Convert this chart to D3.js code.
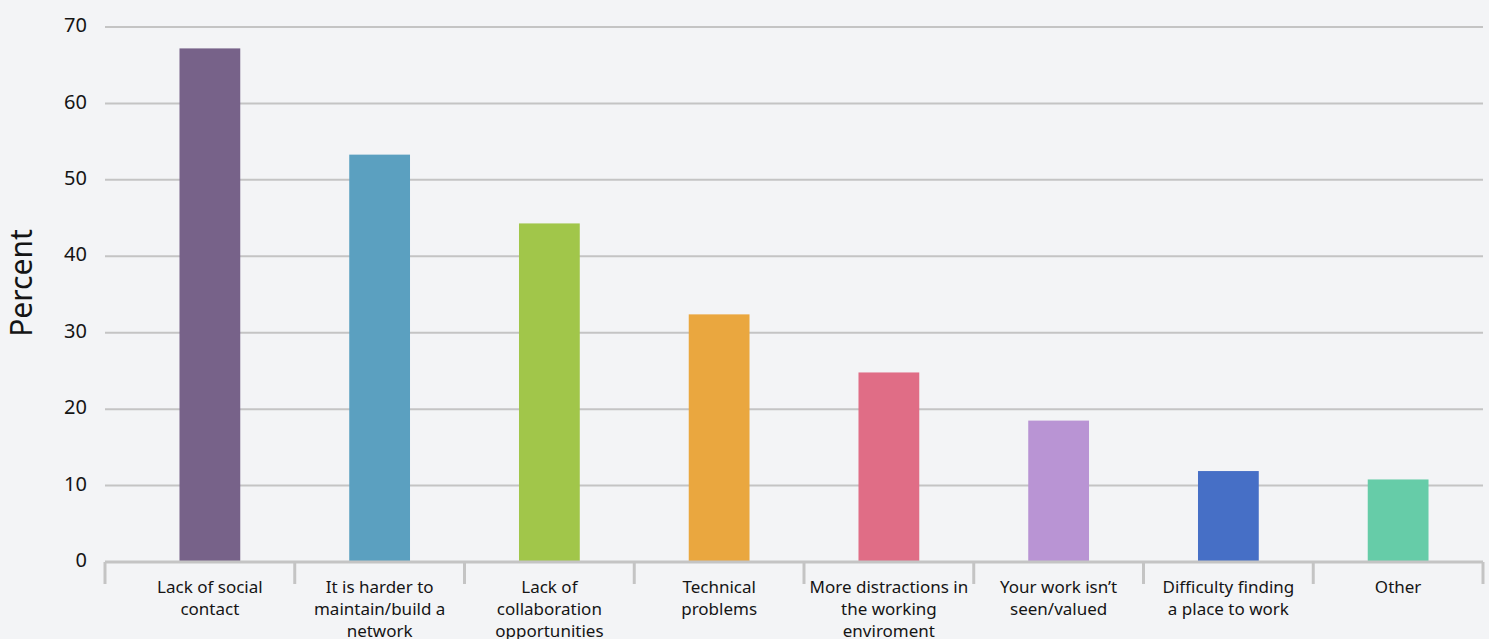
<!DOCTYPE html>
<html>
<head>
<meta charset="utf-8">
<script src="https://cdn.jsdelivr.net/npm/d3@7"></script>
<style>
  html, body { margin: 0; padding: 0; background: #f3f4f6; }
  svg { display: block; }
</style>
</head>
<body>
<div id="chart"></div>
<script>
// Challenges of remote working (share of respondents, %)
const categories = [
  "Lack of social\ncontact",
  "It is harder to\nmaintain/build a\nnetwork",
  "Lack of\ncollaboration\nopportunities",
  "Technical\nproblems",
  "More distractions in\nthe working\nenviroment",
  "Your work isn\u2019t\nseen/valued",
  "Difficulty finding\na place to work",
  "Other"
];
const percentValues = [67.2, 53.3, 44.3, 32.4, 24.8, 18.5, 11.9, 10.8];
const barColors = ["#776289", "#5ba0c0", "#a1c64a", "#eaa73f", "#e06d86", "#b994d4", "#466fc6", "#66cca8"];
const yTicks = [0, 10, 20, 30, 40, 50, 60, 70];

const W = 1489, H = 639;
const margin = { top: 27, right: 6, bottom: 77, left: 105 };
const innerW = W - margin.left - margin.right;
const innerH = H - margin.top - margin.bottom;

const svg = d3.select("#chart").append("svg")
  .attr("width", W).attr("height", H)
  .style("background", "#f3f4f6");

const g = svg.append("g").attr("transform", `translate(${margin.left},${margin.top})`);

const y = d3.scaleLinear().domain([0, 70]).range([innerH, 0]);
const x = d3.scaleBand()
  .domain(categories)
  .range([20, innerW])
  .paddingInner(0.642)
  .paddingOuter(0.321);

const font = "'Noto Sans', 'Open Sans', sans-serif";
const gridColor = "#c4c4c4";
const textColor = "#151515";

// horizontal gridlines
g.append("g").selectAll("line")
  .data(yTicks.filter(d => d > 0))
  .join("line")
  .attr("x1", 0).attr("x2", innerW)
  .attr("y1", d => y(d)).attr("y2", d => y(d))
  .attr("stroke", gridColor).attr("stroke-width", 2);

// y tick labels
g.append("g").selectAll("text")
  .data(yTicks)
  .join("text")
  .attr("x", -18)
  .attr("y", d => y(d))
  .attr("dy", "0.26em")
  .attr("text-anchor", "end")
  .attr("font-family", font)
  .attr("font-size", 20)
  .attr("fill", textColor)
  .text(d => d);

// bars
g.append("g").selectAll("rect")
  .data(percentValues)
  .join("rect")
  .attr("x", (d, i) => x(categories[i]))
  .attr("width", x.bandwidth())
  .attr("y", d => y(d))
  .attr("height", d => y(0) - y(d))
  .attr("fill", (d, i) => barColors[i]);

// category axis: baseline and separators between bands
g.append("line")
  .attr("x1", 0).attr("x2", innerW)
  .attr("y1", y(0)).attr("y2", y(0))
  .attr("stroke", gridColor).attr("stroke-width", 3);

const step = x.step();
const bandStart = x.range()[0];
const separators = [0].concat(d3.range(1, categories.length).map(i => bandStart + step * i), [innerW]);
g.append("g").selectAll("line")
  .data(separators)
  .join("line")
  .attr("x1", d => d).attr("x2", d => d)
  .attr("y1", y(0)).attr("y2", y(0) + 22)
  .attr("stroke", gridColor).attr("stroke-width", 3);

// category labels (wrapped at the given line breaks)
const labels = g.append("g").selectAll("text")
  .data(categories)
  .join("text")
  .attr("text-anchor", "middle")
  .attr("font-family", font)
  .attr("font-size", 17)
  .attr("fill", textColor)
  .attr("transform", d => `translate(${x(d) + x.bandwidth() / 2},${y(0) + 31})`);

labels.selectAll("tspan")
  .data(d => d.split("\n"))
  .join("tspan")
  .attr("x", 0)
  .attr("dy", (d, i) => i === 0 ? 0 : 22)
  .text(d => d);

// y-axis title
svg.append("text")
  .attr("transform", "translate(32,283) rotate(-90)")
  .attr("text-anchor", "middle")
  .attr("font-family", font)
  .attr("font-size", 30)
  .attr("fill", textColor)
  .text("Percent");
</script>
</body>
</html>
